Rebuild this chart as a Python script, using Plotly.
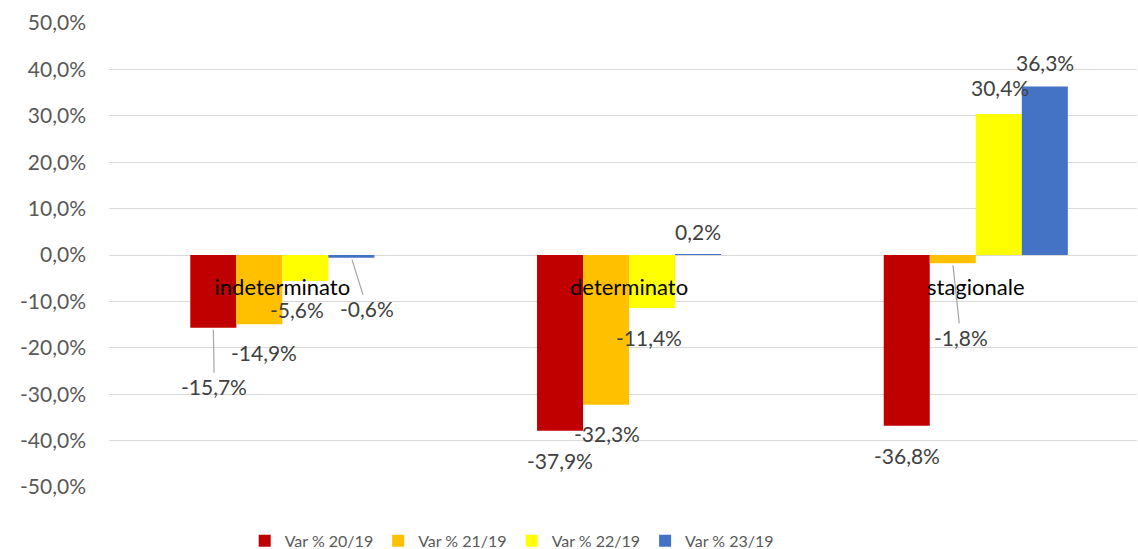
import plotly.graph_objects as go

categories = ["indeterminato", "determinato", "stagionale"]
series_names = ["Var % 20/19", "Var % 21/19", "Var % 22/19", "Var % 23/19"]
var_20_19 = [-15.7, -37.9, -36.8]
var_21_19 = [-14.9, -32.3, -1.8]
var_22_19 = [-5.6, -11.4, 30.4]
var_23_19 = [-0.6, 0.2, 36.3]
y_ticks = [-50, -40, -30, -20, -10, 0, 10, 20, 30, 40, 50]
y_tick_labels = [f"{t:.1f}".replace(".", ",") + "%" for t in y_ticks]

series_values = [var_20_19, var_21_19, var_22_19, var_23_19]
colors = ["#C00000", "#FFC000", "#FFFF00", "#4472C4"]

FONT = "Lato"
LABEL_COLOR = "#404040"

BARGAP = 0.469
bar_w = (1 - BARGAP) / 4

fig = go.Figure()
for name, vals, col in zip(series_names, series_values, colors):
    fig.add_trace(go.Bar(
        x=list(range(len(categories))), y=vals, name=name,
        marker=dict(color=col, line=dict(width=0)),
    ))

# label offsets in pixels (dx, dy_down, leader)
offsets = {
    (0, 0): (1, 59, True), (0, 1): (5, 28, False), (0, 2): (-8, 29, False), (0, 3): (16, 51, True),
    (1, 0): (0, 30, False), (1, 1): (1, 29, False), (1, 2): (-3, 30, False), (1, 3): (0, -23, False),
    (2, 0): (0, 30, False), (2, 1): (8, 74, True), (2, 2): (1, -26, False), (2, 3): (0, -24, False),
}

annotations = []
for si, vals in enumerate(series_values):
    for ci, v in enumerate(vals):
        xpos = ci + (-1.5 + si) * bar_w
        dx, dy, leader = offsets[(ci, si)]
        txt = f"{v:.1f}".replace(".", ",") + "%"
        if leader:
            annotations.append(dict(
                x=xpos, y=v, xref="x", yref="y", text=txt, showarrow=True,
                arrowhead=0, arrowwidth=1.2, arrowcolor="#A6A6A6", ax=dx, ay=dy,
                standoff=2, startstandoff=0,
                font=dict(family=FONT, size=21, color=LABEL_COLOR),
            ))
        else:
            annotations.append(dict(
                x=xpos, y=v, xref="x", yref="y", text=txt, showarrow=False,
                xshift=dx, yshift=-dy,
                font=dict(family=FONT, size=21, color=LABEL_COLOR),
            ))

fig.update_layout(
    width=1138, height=559,
    margin=dict(l=109, r=1, t=23, b=63),
    paper_bgcolor="white", plot_bgcolor="white",
    barmode="group", bargap=BARGAP, bargroupgap=0,
    font=dict(family=FONT, color="#595959"),
    showlegend=True,
    legend=dict(orientation="h", x=0.132, xanchor="left", y=-0.116, yanchor="middle",
                font=dict(family=FONT, size=16, color="#595959"),
                traceorder="normal", itemwidth=30),
    annotations=annotations,
)
fig.update_xaxes(
    type="linear", range=[-0.5, 2.465],
    tickmode="array", tickvals=list(range(len(categories))), ticktext=categories,
    anchor="free", position=0.5, showgrid=False, showline=False, zeroline=False,
    ticks="", ticklabelstandoff=17,
    tickfont=dict(family=FONT, size=22, color="#000000"),
)
fig.update_yaxes(
    range=[-50, 50], tickmode="array", tickvals=y_ticks, ticktext=y_tick_labels,
    showgrid=True, gridcolor="#D9D9D9", gridwidth=1,
    zeroline=True, zerolinecolor="#D9D9D9", zerolinewidth=1,
    showline=False, ticks="", ticklabelstandoff=22,
    tickfont=dict(family=FONT, size=21, color="#595959"),
)

post = (
    "var s=document.documentElement.style;s.margin='0';s.padding='0';s.overflow='hidden';"
    "var b=document.body.style;b.margin='0';b.padding='0';b.overflow='hidden';"
)
fig.write_html("out.html", config={"displayModeBar": False}, post_script=post)
